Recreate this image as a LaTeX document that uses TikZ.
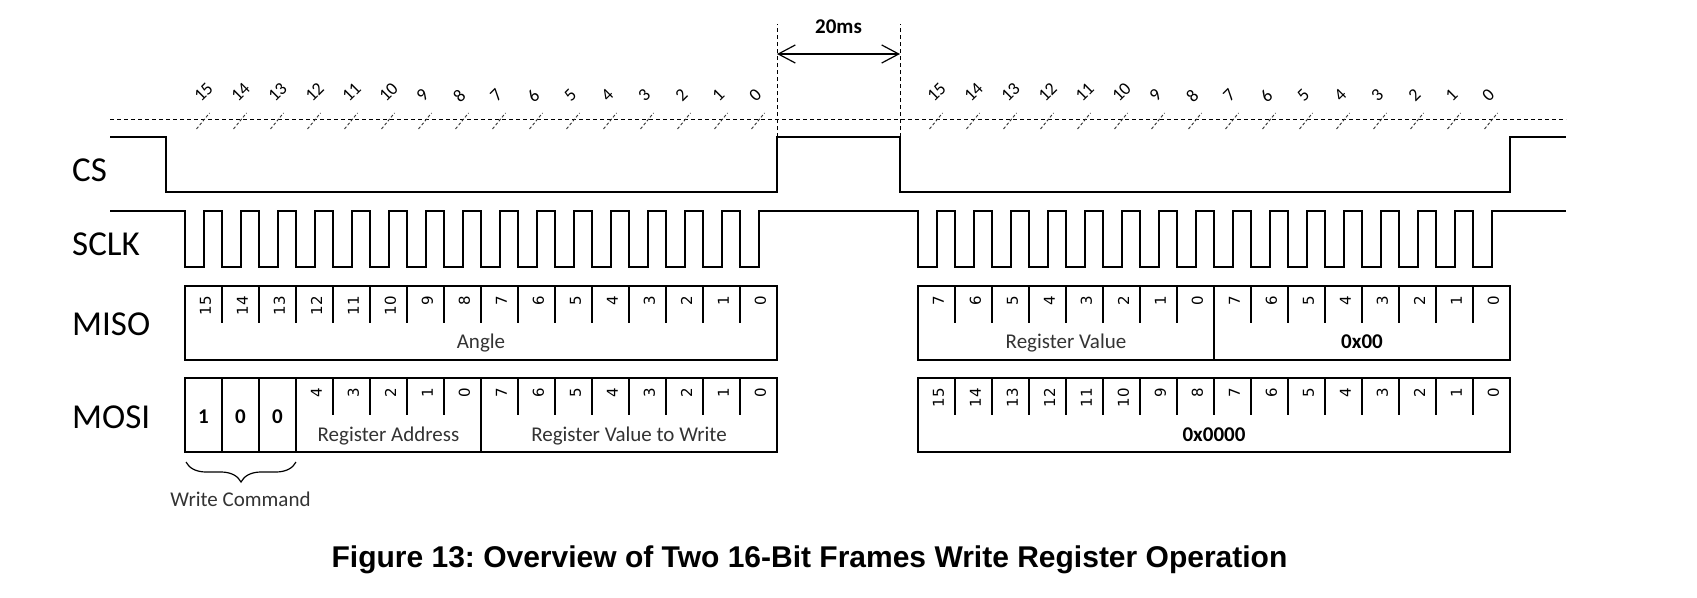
\documentclass[tikz,border=0pt]{standalone}
\usepackage{fontspec}
\setmainfont{Carlito}
\newfontfamily\bitfont{DejaVu Sans}
\newfontfamily\capfont{Liberation Sans}
\usetikzlibrary{arrows.meta,decorations.pathreplacing}
\frenchspacing
\tikzset{
  signal/.style={draw=black, line width=2pt, line join=miter},
  framebox/.style={draw=black, line width=2pt},
  guide/.style={draw=black, line width=0.9pt, dash pattern=on 4pt off 3pt},
  tickmark/.style={draw=black!80, line width=0.9pt, dash pattern=on 3pt off 2pt},
  siglabel/.style={anchor=base west, inner sep=0pt, font=\fontsize{35}{40}\selectfont},
  topbit/.style={anchor=west, rotate=45, inner sep=0pt, text=black,
                 font=\fontsize{18}{19}\selectfont},
  cellbit/.style={anchor=east, rotate=90, inner sep=0pt,
                  font=\bitfont\fontsize{15}{16}\selectfont},
  field/.style={anchor=base, inner sep=0pt, text=black!80, font=\fontsize{21}{24}\selectfont},
  fieldbold/.style={field, text=black, font=\fontsize{21}{24}\selectfont\bfseries},
  gaparrow/.style={{Straight Barb[length=17pt,width=18pt]}-{Straight Barb[length=17pt,width=18pt]},
                   line width=1.2pt},
  brace/.style={decorate, decoration={brace, amplitude=20pt}, line width=1.2pt},
  caption/.style={anchor=base, inner sep=0pt, font=\capfont\fontsize{30}{34}\selectfont\bfseries},
}
\newcommand{\cellw}{37}
\newcommand{\xL}{110}
\newcommand{\xR}{1566}
\newcommand{\xA}{185}
\newcommand{\xB}{918}
\newcommand{\yCShi}{137}
\newcommand{\yCSlo}{192}
\newcommand{\yCKhi}{211}
\newcommand{\yCKlo}{267}
\newcommand{\yMIt}{286}
\newcommand{\yMIb}{360}
\newcommand{\yMOt}{378}
\newcommand{\yMOb}{452}
% one 16-cell field: outline and short dividers
\newcommand{\fieldbox}[3]{%
  \draw[framebox] (#1,#2) rectangle (#1+16*\cellw,#3);
  \foreach \i in {1,...,15} {\draw[framebox] (#1+\i*\cellw,#2) -- (#1+\i*\cellw,#2+37);}
}
% full-height divider
\newcommand{\fulldiv}[4]{%
  \foreach \i in {#4} {\draw[framebox] (#1+\i*\cellw,#2) -- (#1+\i*\cellw,#3);}
}
% rotated bit numbers inside the cells
\newcommand{\cellbits}[4]{%
  \foreach \b [count=\i from 0] in {#4} {\node[cellbit] (#1-\i) at (#2+\i*\cellw+20.5,#3+10) {\b};}
}
% clock tick slashes and bit numbers above the traces
\newcommand{\topbits}[2]{%
  \foreach \b [count=\i from 0] in {15,14,...,0} {
    \draw[tickmark] (#2+\i*\cellw+11.5,129) -- (#2+\i*\cellw+24.5,113);
    \node[topbit] (#1-\b) at (#2+\i*\cellw+12,99) {\b};
  }
}

\begin{document}
\begin{tikzpicture}[x=1pt, y=-1pt]
  \useasboundingbox (0,0) rectangle (1697,597);

  % --- signal names --------------------------------------------------------
  \node[siglabel] (lblCS) at (72,181) {CS};
  \node[siglabel] (lblSCLK) at (72,255) {SCLK};
  \node[siglabel] (lblMISO) at (72,335) {MISO};
  \node[siglabel] (lblMOSI) at (72,428) {MOSI};

  % --- bit grid above the traces -----------------------------------------
  \draw[guide] (\xL,119) -- (\xR,119);
  \topbits{tA}{\xA}
  \topbits{tB}{\xB}

  % --- CS ------------------------------------------------------------------
  \draw[signal] (\xL,\yCShi) -- (\xA-19,\yCShi) -- (\xA-19,\yCSlo)
    -- (\xA+16*\cellw,\yCSlo) -- (\xA+16*\cellw,\yCShi)
    -- (\xB-18,\yCShi) -- (\xB-18,\yCSlo)
    -- (\xB+16*\cellw,\yCSlo) -- (\xB+16*\cellw,\yCShi) -- (\xR,\yCShi);

  % --- 20ms gap between the frames ----------------------------------------
  \coordinate (csRise) at (\xA+16*\cellw,\yCShi);
  \coordinate (csFall) at (\xB-18,\yCShi);
  \coordinate (gapL) at (\xA+16*\cellw,54);
  \coordinate (gapR) at (\xB-18,54);
  \draw[guide] (csRise) -- ++(0,-113);
  \draw[guide] (csFall) -- ++(0,-113);
  \draw[gaparrow] (gapL) -- (gapR);
  \node[fieldbold] (gaptext) at (838.5,33) {20ms};

  % --- SCLK ----------------------------------------------------------------
  \draw[signal] (\xL,\yCKhi)
    foreach \i in {0,...,15} {
      -- (\xA+\i*\cellw,\yCKhi) -- (\xA+\i*\cellw,\yCKlo)
      -- (\xA+\i*\cellw+19,\yCKlo) -- (\xA+\i*\cellw+19,\yCKhi)}
    foreach \i in {0,...,15} {
      -- (\xB+\i*\cellw,\yCKhi) -- (\xB+\i*\cellw,\yCKlo)
      -- (\xB+\i*\cellw+19,\yCKlo) -- (\xB+\i*\cellw+19,\yCKhi)}
    -- (\xR,\yCKhi);

  % --- MISO ----------------------------------------------------------------
  \fieldbox{\xA}{\yMIt}{\yMIb}
  \cellbits{misoA}{\xA}{\yMIt}{15,14,13,12,11,10,9,8,7,6,5,4,3,2,1,0}
  \node[field] (angle) at (\xA+8*\cellw,348) {Angle};

  \fieldbox{\xB}{\yMIt}{\yMIb}
  \fulldiv{\xB}{\yMIt}{\yMIb}{8}
  \cellbits{misoB}{\xB}{\yMIt}{7,6,5,4,3,2,1,0,7,6,5,4,3,2,1,0}
  \node[field] (regval) at (\xB+4*\cellw,348) {Register Value};
  \node[fieldbold] (zeroA) at (\xB+12*\cellw,348) {0x00};

  % --- MOSI ----------------------------------------------------------------
  \fieldbox{\xA}{\yMOt}{\yMOb}
  \fulldiv{\xA}{\yMOt}{\yMOb}{1,2,3,8}
  \node[fieldbold] (cmd-1) at (\xA+0.5*\cellw,423) {1};
  \node[fieldbold] (cmd-2) at (\xA+1.5*\cellw,423) {0};
  \node[fieldbold] (cmd-3) at (\xA+2.5*\cellw,423) {0};
  \cellbits{mosiA}{\xA+3*\cellw}{\yMOt}{4,3,2,1,0,7,6,5,4,3,2,1,0}
  \node[field] (regaddr) at (\xA+5.5*\cellw,441) {Register Address};
  \node[field] (regwrite) at (\xA+12*\cellw,441) {Register Value to Write};

  \fieldbox{\xB}{\yMOt}{\yMOb}
  \cellbits{mosiB}{\xB}{\yMOt}{15,14,13,12,11,10,9,8,7,6,5,4,3,2,1,0}
  \node[fieldbold] (zeroB) at (\xB+8*\cellw,441) {0x0000};

  % --- write command brace -------------------------------------------------
  \coordinate (braceR) at (\xA+3*\cellw,462);
  \coordinate (braceL) at (\xA+1,462);
  \draw[brace] (braceR) -- (braceL);
  \node[field] (wcmd) at (\xA+1.5*\cellw,506) {Write Command};

  % --- caption ---------------------------------------------------------------
  \node[caption] (caption) at (809.5,567)
    {Figure 13: Overview of Two 16-Bit Frames Write Register Operation};

\end{tikzpicture}
\end{document}
